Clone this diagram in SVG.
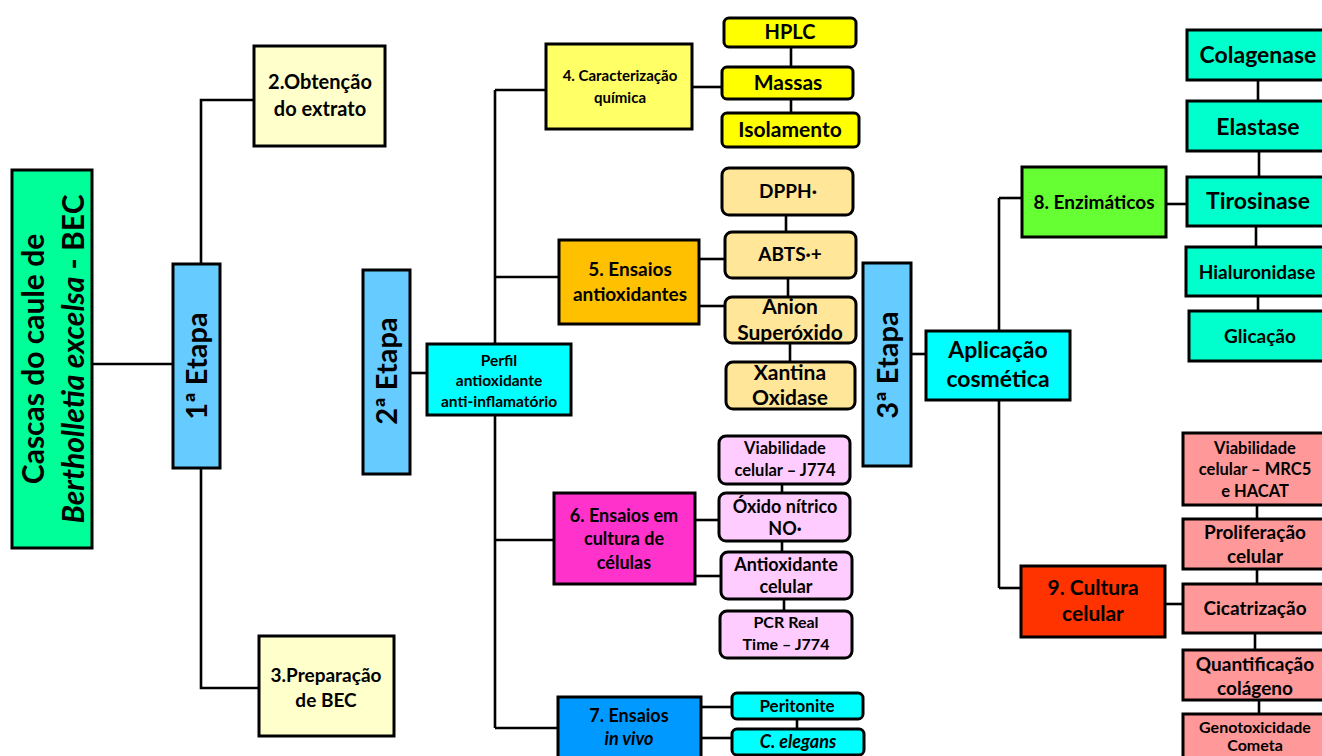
<svg xmlns="http://www.w3.org/2000/svg" width="1322" height="756" viewBox="0 0 1322 756">
<style>
text{font-family:Lato,"Liberation Sans",sans-serif;font-weight:bold;fill:#000;text-anchor:middle}
.b{stroke:#000;stroke-width:3}
.c{fill:none;stroke:#000;stroke-width:2.6}
.i{font-style:italic}
</style>
<rect width="1322" height="756" fill="#fff"/>
<g id="connectors" class="c">
<path d="M92,364 H173"/>
<path d="M201,264 V100 H254"/>
<path d="M201,469 V688 H259"/>
<path d="M410,373 H427"/>
<path d="M495,90 V728"/>
<path d="M495,90 H546"/>
<path d="M495,277 H559"/>
<path d="M495,540 H554"/>
<path d="M495,728 H558"/>
<path d="M692,87 H722"/>
<path d="M791,47 V67"/>
<path d="M791,99 V113"/>
<path d="M699,259 H725"/>
<path d="M699,306 H725"/>
<path d="M786,215 V232"/>
<path d="M788,278 V297"/>
<path d="M790,343 V362"/>
<path d="M695,520 H719"/>
<path d="M695,576 H721"/>
<path d="M782,484 V493"/>
<path d="M782,541 V552"/>
<path d="M784,599 V611"/>
<path d="M701,707 H732"/>
<path d="M701,738 H732"/>
<path d="M797,719 V729"/>
<path d="M911,354 H926"/>
<path d="M999,198 V588"/>
<path d="M999,198 H1022"/>
<path d="M999,588 H1021"/>
<path d="M1166,204 H1187"/>
<path d="M1258,80 V101"/>
<path d="M1259,151 V177"/>
<path d="M1256,226 V247"/>
<path d="M1258,296 V311"/>
<path d="M1165,604 H1183"/>
<path d="M1257,505 V519"/>
<path d="M1257,569 V584"/>
<path d="M1255,633 V650"/>
<path d="M1259,700 V714"/>
</g>

<g id="n-bec">
<rect class="b" x="12" y="170" width="80" height="378" fill="#00FF99"/>
<g transform="translate(0,359) rotate(-90)">
<text x="0" y="44" font-size="30">Cascas do caule de</text>
<text x="0" y="84" font-size="30"><tspan class="i">Bertholletia excelsa</tspan> - BEC</text>
</g>
</g>

<g id="n-etapa1">
<rect class="b" x="173" y="264" width="47" height="204" fill="#66CCFF"/>
<text transform="translate(207,366) rotate(-90)" font-size="29">1ª Etapa</text>
</g>
<g id="n-obtencao">
<rect class="b" x="254" y="46" width="131" height="100" fill="#FFFFCC"/>
<text x="320" y="89" font-size="20">2.Obtenção</text>
<text x="320" y="116" font-size="20">do extrato</text>
</g>
<g id="n-preparacao">
<rect class="b" x="259" y="636" width="135" height="100" fill="#FFFFCC"/>
<text x="326" y="682" font-size="19">3.Preparação</text>
<text x="326" y="707" font-size="19">de BEC</text>
</g>

<g id="n-etapa2">
<rect class="b" x="363" y="270" width="47" height="204" fill="#66CCFF"/>
<text transform="translate(397,371) rotate(-90)" font-size="29">2ª Etapa</text>
</g>
<g id="n-perfil">
<rect class="b" x="427" y="344" width="144" height="71" fill="#00FFFF"/>
<text x="499" y="366" font-size="15.5">Perfil</text>
<text x="499" y="386" font-size="15.5">antioxidante</text>
<text x="499" y="407" font-size="15.5">anti-inflamatório</text>
</g>

<g id="n-caracterizacao">
<rect class="b" x="546" y="44" width="146" height="85" fill="#FFFF66"/>
<text x="620" y="81" font-size="15">4. Caracterização</text>
<text x="620" y="103" font-size="15">química</text>
</g>
<g id="n-hplc"><rect class="b" x="724" y="18" width="132" height="29" rx="5" fill="#FFFF00"/><text x="790" y="39" font-size="20">HPLC</text></g>
<g id="n-massas"><rect class="b" x="722" y="67" width="131" height="32" rx="5" fill="#FFFF00"/><text x="788" y="90" font-size="21">Massas</text></g>
<g id="n-isolamento"><rect class="b" x="722" y="113" width="137" height="34" rx="5" fill="#FFFF00"/><text x="790" y="137" font-size="21">Isolamento</text></g>

<g id="n-antiox">
<rect class="b" x="559" y="240" width="140" height="84" fill="#FFC000"/>
<text x="630" y="276" font-size="19">5. Ensaios</text>
<text x="630" y="301" font-size="19">antioxidantes</text>
</g>
<g id="n-dpph"><rect class="b" x="722" y="168" width="131" height="47" rx="7" fill="#FFE699"/><text x="788" y="198" font-size="19">DPPH·</text></g>
<g id="n-abts"><rect class="b" x="725" y="232" width="131" height="46" rx="7" fill="#FFE699"/><text x="790" y="261" font-size="19">ABTS·+</text></g>
<g id="n-anion"><rect class="b" x="725" y="297" width="131" height="46" rx="7" fill="#FFE699"/><text x="790" y="314" font-size="21">Anion</text><text x="790" y="340" font-size="21">Superóxido</text></g>
<g id="n-xantina"><rect class="b" x="726" y="362" width="129" height="47" rx="7" fill="#FFE699"/><text x="790" y="380" font-size="21">Xantina</text><text x="790" y="405" font-size="21">Oxidase</text></g>

<g id="n-cultura6">
<rect class="b" x="554" y="493" width="141" height="91" fill="#FF33CC"/>
<text x="624" y="522" font-size="18">6. Ensaios em</text>
<text x="624" y="545" font-size="18">cultura de</text>
<text x="624" y="569" font-size="18">células</text>
</g>
<g id="n-viab774"><rect class="b" x="719" y="436" width="131" height="48" rx="7" fill="#FFCCFF"/><text x="785" y="454" font-size="16.5">Viabilidade</text><text x="785" y="476" font-size="16.5">celular – J774</text></g>
<g id="n-oxido"><rect class="b" x="719" y="493" width="131" height="48" rx="7" fill="#FFCCFF"/><text x="785" y="513" font-size="18">Óxido nítrico</text><text x="785" y="535" font-size="18">NO·</text></g>
<g id="n-antioxcel"><rect class="b" x="721" y="552" width="131" height="47" rx="7" fill="#FFCCFF"/><text x="786" y="571" font-size="18">Antioxidante</text><text x="786" y="593" font-size="18">celular</text></g>
<g id="n-pcr"><rect class="b" x="720" y="611" width="132" height="47" rx="7" fill="#FFCCFF"/><text x="786" y="628" font-size="16">PCR Real</text><text x="786" y="650" font-size="16">Time – J774</text></g>

<g id="n-invivo">
<rect class="b" x="558" y="697" width="143" height="70" fill="#0099FF"/>
<text x="629" y="722" font-size="18">7. Ensaios</text>
<text x="629" y="745" font-size="18" class="i">in vivo</text>
</g>
<g id="n-peritonite"><rect class="b" x="732" y="693" width="131" height="26" rx="5" fill="#00FFFF"/><text x="797" y="712" font-size="17">Peritonite</text></g>
<g id="n-elegans"><rect class="b" x="732" y="729" width="132" height="26" rx="5" fill="#00FFFF"/><text x="798" y="748" font-size="18" class="i">C. elegans</text></g>

<g id="n-etapa3">
<rect class="b" x="863" y="263" width="48" height="203" fill="#66CCFF"/>
<text transform="translate(898,365) rotate(-90)" font-size="29">3ª Etapa</text>
</g>
<g id="n-aplicacao">
<rect class="b" x="926" y="331" width="144" height="69" fill="#00FFFF"/>
<text x="998" y="358" font-size="23">Aplicação</text>
<text x="998" y="387" font-size="23">cosmética</text>
</g>
<g id="n-enzim">
<rect class="b" x="1022" y="167" width="144" height="70" fill="#66FF33"/>
<text x="1094" y="209" font-size="19">8. Enzimáticos</text>
</g>
<g id="n-colagenase"><rect class="b" x="1187" y="30" width="150" height="50" fill="#00FFCC"/><text x="1258" y="63" font-size="23">Colagenase</text></g>
<g id="n-elastase"><rect class="b" x="1187" y="101" width="150" height="50" fill="#00FFCC"/><text x="1258" y="135" font-size="23">Elastase</text></g>
<g id="n-tirosinase"><rect class="b" x="1187" y="177" width="150" height="49" fill="#00FFCC"/><text x="1258" y="209" font-size="23">Tirosinase</text></g>
<g id="n-hialuronidase"><rect class="b" x="1186" y="247" width="150" height="49" fill="#00FFCC"/><text x="1257" y="279" font-size="19">Hialuronidase</text></g>
<g id="n-glicacao"><rect class="b" x="1189" y="311" width="150" height="50" fill="#00FFCC"/><text x="1260" y="343" font-size="19">Glicação</text></g>

<g id="n-cultura9">
<rect class="b" x="1021" y="566" width="144" height="71" fill="#FF3300"/>
<text x="1093" y="595" font-size="21">9. Cultura</text>
<text x="1093" y="621" font-size="21">celular</text>
</g>
<g id="n-viabmrc5"><rect class="b" x="1183" y="433" width="150" height="72" fill="#FF9999"/><text x="1255" y="454" font-size="16.5">Viabilidade</text><text x="1255" y="475" font-size="16.5">celular – MRC5</text><text x="1255" y="497" font-size="16.5">e HACAT</text></g>
<g id="n-prolif"><rect class="b" x="1183" y="519" width="150" height="50" fill="#FF9999"/><text x="1255" y="539" font-size="19">Proliferação</text><text x="1255" y="563" font-size="19">celular</text></g>
<g id="n-cicat"><rect class="b" x="1183" y="584" width="150" height="49" fill="#FF9999"/><text x="1255" y="615" font-size="19">Cicatrização</text></g>
<g id="n-quant"><rect class="b" x="1183" y="650" width="150" height="50" fill="#FF9999"/><text x="1255" y="671" font-size="19">Quantificação</text><text x="1255" y="695" font-size="19">colágeno</text></g>
<g id="n-geno"><rect class="b" x="1183" y="714" width="150" height="60" fill="#FF9999"/><text x="1255" y="733" font-size="16">Genotoxicidade</text><text x="1255" y="751" font-size="16">Cometa</text></g>
</svg>
